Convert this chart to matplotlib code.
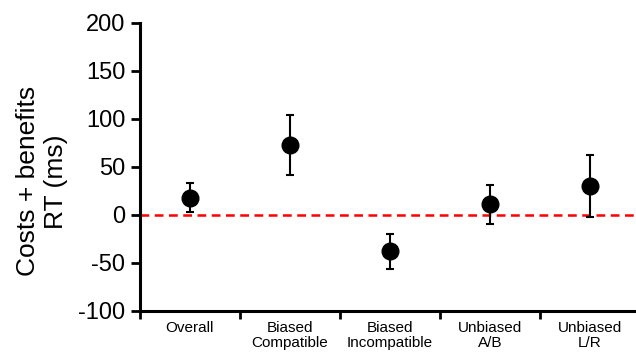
import numpy as np
import matplotlib.pyplot as plt

plt.rcParams["font.family"] = ["Liberation Sans", "DejaVu Sans"]
plt.rcParams["axes.unicode_minus"] = False

# values (ms)
CONDITIONS = ["Overall", "Biased\nCompatible", "Biased\nIncompatible", "Unbiased\nA/B", "Unbiased\nL/R"]
MEANS = [18, 73, -38, 11, 30]
ERRORS = [15, 31, 18, 20, 32]
Y_TICKS = [-100, -50, 0, 50, 100, 150, 200]

fig = plt.figure(figsize=(6.36, 3.54), dpi=100)
ax = fig.add_axes([0.220, 0.1215, 0.786, 0.8136])

x = np.arange(len(CONDITIONS))
ax.axhline(0, color="#ff0000", lw=1.8, linestyle=(0, (3.5, 2.2)), zorder=1)
ax.errorbar(x, MEANS, yerr=ERRORS, fmt="o", color="black", ms=12,
            elinewidth=1.5, capsize=2.6, capthick=1.5, zorder=3)

ax.set_xlim(-0.5, len(CONDITIONS) - 0.5)
ax.set_ylim(-100, 200)
ax.set_yticks(Y_TICKS)
ax.tick_params(axis="y", labelsize=17, width=2, length=6.5, pad=4)

# boundary ticks between categories, labels centred in each cell
ax.set_xticks(x - 0.5)
ax.set_xticklabels([])
ax.set_xticks(x, minor=True)
ax.set_xticklabels(CONDITIONS, minor=True, fontsize=11, linespacing=1.15)
ax.tick_params(axis="x", which="major", width=2, length=6)
ax.tick_params(axis="x", which="minor", length=0, pad=7)

for side in ["top", "right"]:
    ax.spines[side].set_visible(False)
for side in ["left", "bottom"]:
    ax.spines[side].set_linewidth(2.2)

ax.set_ylabel("Costs + benefits\nRT (ms)", fontsize=19, linespacing=1.2)
ax.yaxis.set_label_coords(-0.144, 0.45)

fig.savefig("out.png", dpi=100)
